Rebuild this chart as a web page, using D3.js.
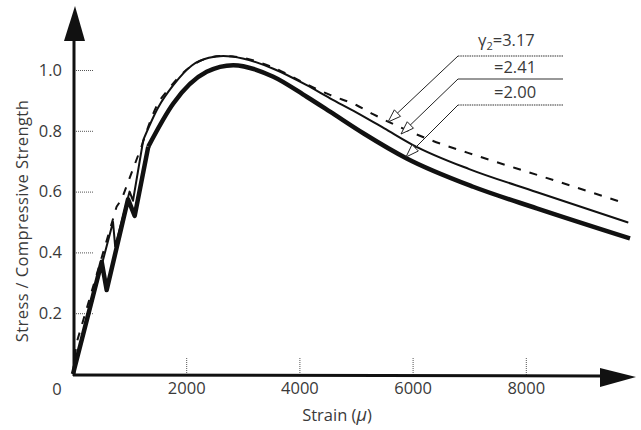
<!DOCTYPE html>
<html>
<head>
<meta charset="utf-8">
<script src="https://cdn.jsdelivr.net/npm/d3@7"></script>
<style>
  html, body { margin: 0; padding: 0; background: #fff; }
  svg { display: block; }
  text { font-family: "Open Sans", "DejaVu Sans", sans-serif; fill: #3a3a3a; }
</style>
</head>
<body>
<svg id="chart" width="641" height="430"></svg>
<script>
// ---------- data ----------
const xTicks = [2000, 4000, 6000, 8000];
const yTicks = [0.2, 0.4, 0.6, 0.8, 1.0];
const xTitle = "Strain (";
const xTitleUnit = "\u03BC";
const yTitle = "Stress / Compressive Strength";

const seriesNames = ["3.17", "2.41", "2.00"];

// gamma2 = 3.17 (dashed)
const strain317 = [0, 60, 770, 860, 1213, 1502, 1680, 2000, 2362, 2655, 3000, 3539, 4129, 4541, 5012, 5300, 6300, 7200, 8200, 9664];
const stress317 = [0, 0.10, 0.55, 0.575, 0.75, 0.89, 0.935, 1.00, 1.038, 1.046, 1.040, 1.008, 0.953, 0.918, 0.884, 0.855, 0.771, 0.714, 0.655, 0.567];
// gamma2 = 2.41 (thin solid)
const strain241 = [0, 707, 745, 1000, 1060, 1242, 1500, 1772, 2100, 2400, 2655, 3000, 3539, 4129, 4541, 5012, 5500, 6000, 7000, 8200, 9811];
const stress241 = [0, 0.50, 0.42, 0.60, 0.57, 0.77, 0.875, 0.950, 1.015, 1.040, 1.046, 1.038, 1.004, 0.950, 0.907, 0.860, 0.808, 0.754, 0.674, 0.598, 0.498];
// gamma2 = 2.00 (thick solid)
const strain200 = [0, 507, 595, 972, 1090, 1330, 1772, 2362, 2832, 3539, 4129, 4541, 5129, 5896, 7070, 8193, 9841];
const stress200 = [0, 0.369, 0.276, 0.575, 0.520, 0.748, 0.890, 0.994, 1.016, 0.978, 0.912, 0.863, 0.792, 0.709, 0.616, 0.545, 0.446];

// ---------- layout ----------
const svg = d3.select("#chart");
const x = d3.scaleLinear().domain([0, 10000]).range([73, 639]);
const y = d3.scaleLinear().domain([0, 1]).range([374, 70]);
const axisY0 = 375;
const FS = 16.5;

// ---------- ticks via d3 axes ----------
const gx = svg.append("g").attr("transform", `translate(0,${axisY0})`)
  .call(d3.axisBottom(x).tickValues(xTicks).tickFormat(d3.format("d"))
        .tickSizeInner(-18).tickSizeOuter(0).tickPadding(7));
gx.select(".domain").remove();
gx.selectAll(".tick line").attr("stroke", "#555").attr("stroke-width", 1).attr("stroke-dasharray", "1,1");
gx.selectAll(".tick text").attr("font-size", FS).attr("fill", "#3a3a3a")
  .style("font-family", '"Open Sans", sans-serif');

const gy = svg.append("g").attr("transform", `translate(74,0)`)
  .call(d3.axisLeft(y).tickValues(yTicks).tickFormat(d3.format(".1f"))
        .tickSizeInner(-20).tickSizeOuter(0).tickPadding(12));
gy.select(".domain").remove();
gy.selectAll(".tick line").attr("stroke", "#555").attr("stroke-width", 1).attr("stroke-dasharray", "1,1");
gy.selectAll(".tick text").attr("font-size", FS).attr("fill", "#3a3a3a")
  .style("font-family", '"Open Sans", sans-serif');

// origin label
svg.append("text").attr("x", 57).attr("y", 395).attr("text-anchor", "middle")
  .attr("font-size", FS).text("0");

// ---------- axis lines with arrows ----------
svg.append("line").attr("x1", x(0)).attr("x2", 602).attr("y1", axisY0).attr("y2", axisY0 + 1)
  .attr("stroke", "#111").attr("stroke-width", 3);
svg.append("path").attr("d", `M600,368 L636,377 L600,387 Z`).attr("fill", "#111");
svg.append("line").attr("x1", 74).attr("x2", 74).attr("y1", axisY0 + 1).attr("y2", 38)
  .attr("stroke", "#111").attr("stroke-width", 3);
svg.append("path").attr("d", `M64,41 L75,6 L85,41 Z`).attr("fill", "#111");

// ---------- axis titles ----------
const xt = svg.append("text").attr("x", 337).attr("y", 421).attr("text-anchor", "middle")
  .attr("font-size", FS);
xt.append("tspan").text(xTitle);
xt.append("tspan").attr("font-style", "italic").attr("font-size", 18).text(xTitleUnit);
xt.append("tspan").text(")");

svg.append("text").attr("transform", "rotate(-90)")
  .attr("x", -221).attr("y", 28).attr("text-anchor", "middle")
  .attr("font-size", FS).attr("letter-spacing", 0.4).text(yTitle);

// ---------- curves ----------
function pts(xs, ys) { return xs.map((v, i) => [v, ys[i]]); }
const lineLin = d3.line().x(d => x(d[0])).y(d => y(d[1])).curve(d3.curveLinear);
const lineSm = d3.line().x(d => x(d[0])).y(d => y(d[1])).curve(d3.curveMonotoneX);

const curves = [
  { name: seriesNames[0], data: pts(strain317, stress317), k: 4, w: 2, dash: "8,9" },
  { name: seriesNames[1], data: pts(strain241, stress241), k: 5, w: 2, dash: null },
  { name: seriesNames[2], data: pts(strain200, stress200), k: 5, w: 4.5, dash: null }
];
curves.forEach(c => {
  const lin = c.data.slice(0, c.k + 1);
  const sm = c.data.slice(c.k);
  [lineLin(lin), lineSm(sm)].forEach(d => {
    const p = svg.append("path").attr("d", d).attr("fill", "none")
      .attr("stroke", "#111").attr("stroke-width", c.w)
      .attr("stroke-linejoin", "round").attr("stroke-linecap", "butt");
    if (c.dash) p.attr("stroke-dasharray", c.dash);
  });
});

// ---------- annotations ----------
const annos = [
  { lineY: 56, tip: [388, 122], dashed: true },
  { lineY: 79, tip: [401, 134], dashed: false },
  { lineY: 105, tip: [406, 157], dashed: true }
];
annos.forEach(a => {
  svg.append("line").attr("x1", 458).attr("x2", 563).attr("y1", a.lineY).attr("y2", a.lineY)
    .attr("stroke", "#333").attr("stroke-width", 1.2)
    .attr("stroke-dasharray", a.dashed ? "1.5,0.8" : null);
  svg.append("line").attr("x1", 458).attr("y1", a.lineY).attr("x2", a.tip[0]).attr("y2", a.tip[1])
    .attr("stroke", "#222").attr("stroke-width", 1);
  const dx = 458 - a.tip[0], dy = a.lineY - a.tip[1];
  const L = Math.hypot(dx, dy), ux = dx / L, uy = dy / L;
  const hl = 13, hw = 4.5;
  const bx = a.tip[0] + ux * hl, by = a.tip[1] + uy * hl;
  svg.append("path")
    .attr("d", `M${a.tip[0]},${a.tip[1]} L${bx - uy * hw},${by + ux * hw} L${bx + uy * hw},${by - ux * hw} Z`)
    .attr("fill", "#fff").attr("stroke", "#222").attr("stroke-width", 1);
});

const t1 = svg.append("text").attr("x", 478).attr("y", 46).attr("font-size", 16.5);
t1.append("tspan").text("\u03B3");
t1.append("tspan").attr("font-size", 11).attr("dy", 4).text("2");
t1.append("tspan").attr("dy", -4).text("=" + seriesNames[0]);
svg.append("text").attr("x", 494).attr("y", 73).attr("font-size", 16.5).text("=" + seriesNames[1]);
svg.append("text").attr("x", 494).attr("y", 98).attr("font-size", 16.5).text("=" + seriesNames[2]);
</script>
</body>
</html>
